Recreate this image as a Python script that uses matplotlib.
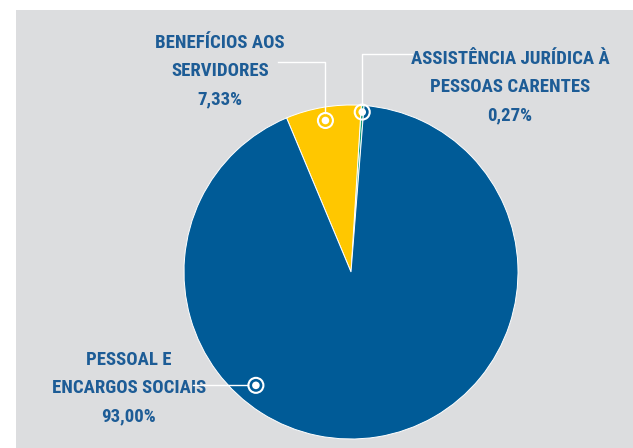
import numpy as np
import matplotlib.pyplot as plt
from matplotlib.patches import Rectangle, Circle

# data
labels = ['ASSISTÊNCIA JURÍDICA À\nPESSOAS CARENTES', 'BENEFÍCIOS AOS\nSERVIDORES', 'PESSOAL E\nENCARGOS SOCIAIS']
values = [0.27, 7.33, 93.00]
value_text = ['0,27%', '7,33%', '93,00%']
colors = ['#17a07c', '#ffc700', '#005b97']

W, H = 633, 448
text_blue = '#1d5c96'
bg_gray = '#dcdddf'

plt.rcParams['font.family'] = ['Roboto Condensed', 'Roboto', 'DejaVu Sans']

fig = plt.figure(figsize=(W / 100, H / 100), dpi=100)
fig.patch.set_facecolor('white')
fig.patches.append(Rectangle((16 / W, 0), 1 - 16 / W, (H - 10) / H,
                             transform=fig.transFigure, facecolor=bg_gray,
                             edgecolor='none', zorder=-10))

# axes in pixel units, y going up
ax = fig.add_axes([0, 0, 1, 1])
ax.patch.set_alpha(0)

cx, cy, R = 351, H - 272, 167
wedges, _ = ax.pie(values, colors=colors, startangle=85.5, counterclock=True,
                   center=(cx, cy), radius=R, frame=True,
                   wedgeprops=dict(edgecolor='white', linewidth=0.7))
ax.set_xlim(0, W)
ax.set_ylim(0, H)
ax.set_aspect('equal')
ax.axis('off')


def marker(ang, frac):
    a = np.deg2rad(ang)
    x = cx + R * frac * np.cos(a)
    y = cy + R * frac * np.sin(a)
    ax.add_patch(Circle((x, y), 7.5, facecolor='none', edgecolor='white', lw=1.5, zorder=5))
    ax.add_patch(Circle((x, y), 3.8, facecolor='white', edgecolor='none', zorder=6))
    return x, y


def mid(w):
    return (w.theta1 + w.theta2) / 2


lw = 1.0
# green slice -> label at right
gx, gy = marker(mid(wedges[0]), 0.96)
ax.plot([gx, gx, 412], [gy + 7.5, H - 54, H - 54], color='white', lw=lw, zorder=4)
# yellow slice -> label at left
yx, yy = marker(mid(wedges[1]), 0.92)
ax.plot([yx, yx, 278], [yy + 7.5, H - 62, H - 62], color='white', lw=lw, zorder=4)
# blue slice -> label at lower left
bx, by = marker(230, 0.886)
ax.plot([bx - 7.5, 193], [by, by], color='white', lw=lw, zorder=4)

font = dict(color=text_blue, fontsize=13.5, fontweight='bold', fontstretch='condensed',
            ha='center', va='center', multialignment='center', linespacing=1.72)
ax.text(510, H - 87, labels[0] + '\n' + value_text[0], **font)
ax.text(220, H - 71, labels[1] + '\n' + value_text[1], **font)
ax.text(129, H - 388, labels[2] + '\n' + value_text[2], **font)

fig.savefig('out.png', dpi=100)
